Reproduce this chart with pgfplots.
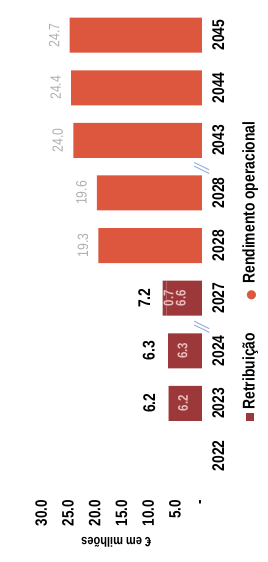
\documentclass[border=0pt]{standalone}
\usepackage{pgfplots}
\pgfplotsset{compat=1.18}
\usepackage{fontspec}
\setmainfont{Liberation Sans}[FakeStretch=0.82]
\newfontfamily\sym{DejaVu Sans}
\definecolor{retrib}{RGB}{156,56,58}
\definecolor{rendop}{RGB}{221,86,62}
\definecolor{valgray}{RGB}{175,175,175}
\definecolor{inlbl}{RGB}{232,190,190}
\definecolor{brk}{RGB}{150,178,220}
\begin{document}
\begin{tikzpicture}
\path (0,-64bp) rectangle (263bp,498bp);
\begin{axis}[
  at={(0,0)}, anchor=south west,
  scale only axis, width=197.5bp, height=498bp,
  xbar, bar width=35bp, bar shift=0pt,
  x dir=reverse,
  xmin=0, xmax=36.9, ymin=-0.8, ymax=8.67,
  axis line style={draw=none},
  tick style={draw=none},
  clip=false,
  xtick={0,5,10,15,20,25,30},
  xticklabels={-,5.0,10.0,15.0,20.0,25.0,30.0},
  xticklabel style={rotate=90, anchor=east, inner sep=2bp, font=\fontsize{16.5}{17}\selectfont\bfseries},
  ytick={0,1,2,3,4,5,6,7,8},
  yticklabels={2022,2023,2024,2027,2028,2028,2043,2044,2045},
  yticklabel pos=right,
  yticklabel style={xshift=6bp, rotate=90, anchor=north, inner sep=0pt, font=\fontsize{17}{17}\selectfont\bfseries},
  point meta=explicit symbolic,
]
% Retribuicao (stacked with the small 2027 segment)
\addplot[xbar, bar shift=0pt, stack plots=x, fill=retrib, draw=none, nodes near coords, nodes near coords style={xshift=14.5bp, rotate=90, anchor=center, inner sep=0pt, text=inlbl, font=\fontsize{14}{14}\selectfont\bfseries}]
 coordinates {(6.2,1)[6.2] (6.3,2)[6.3] (6.6,3)[6.6]};
\addplot[xbar, bar shift=0pt, stack plots=x, fill=retrib, draw=none, nodes near coords, nodes near coords style={xshift=6bp, rotate=90, anchor=center, inner sep=0pt, text=inlbl, font=\fontsize{14}{14}\selectfont\bfseries}]
 coordinates {(0,1)[] (0,2)[] (0.7,3)[0.7]};
% Rendimento operacional
\addplot[xbar, bar shift=0pt, stack plots=false, fill=rendop, draw=none, nodes near coords, nodes near coords style={xshift=-10bp, rotate=90, anchor=south, inner sep=0pt, text=valgray, font=\fontsize{15}{15}\selectfont}]
 coordinates {(19.3,4)[19.3] (19.6,5)[19.6] (24.0,6)[24.0] (24.4,7)[24.4] (24.7,8)[24.7]};
% totals
\addplot[xbar, bar shift=0pt, stack plots=false, draw=none, fill=none, nodes near coords, nodes near coords style={xshift=-13bp, rotate=90, anchor=south, inner sep=0pt, text=black, font=\fontsize{17}{17}\selectfont\bfseries}]
 coordinates {(6.2,1)[6.2] (6.3,2)[6.3] (7.2,3)[7.2]};
\draw[brk, line width=1bp] (axis cs:1.4,2.56) -- (axis cs:-1.4,2.42);
\draw[brk, line width=1bp] (axis cs:1.4,2.49) -- (axis cs:-1.4,2.35);
\draw[brk, line width=1bp] (axis cs:1.4,5.58) -- (axis cs:-1.4,5.44);
\draw[brk, line width=1bp] (axis cs:1.4,5.51) -- (axis cs:-1.4,5.37);
\end{axis}
\node[rotate=90, font=\fontsize{17}{17}\selectfont\bfseries, inner sep=0pt] at (246bp,226.5bp) {\textcolor{retrib}{\raisebox{1bp}{\rule{8bp}{8bp}}}\hspace{4bp}Retribuição\hspace{33bp}{\sym\fontsize{12}{12}\selectfont\textcolor{rendop}{●}}\hspace{6bp}Rendimento operacional};
\node[rotate=180, font=\fontsize{13.5}{14}\selectfont\bfseries] at (112bp,-44.5bp) {€ em milhões};
\end{tikzpicture}
\end{document}
